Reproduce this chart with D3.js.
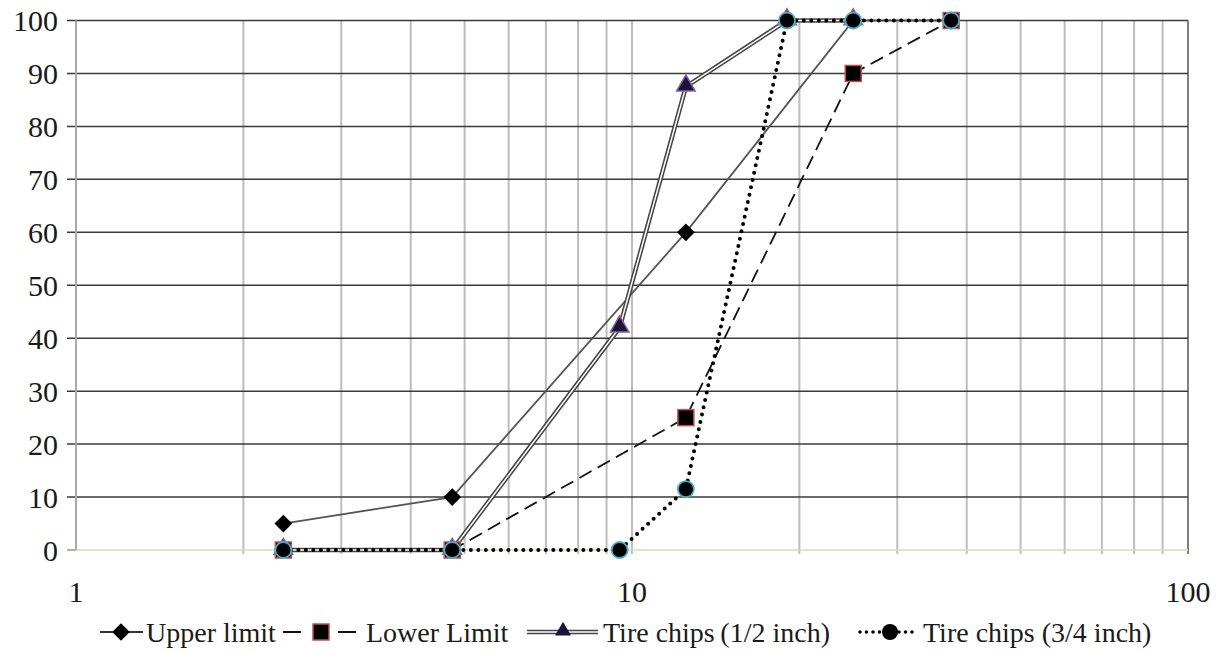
<!DOCTYPE html>
<html><head><meta charset="utf-8">
<script src="https://cdn.jsdelivr.net/npm/d3@7"></script>
<style>body{margin:0;background:#fff}svg{display:block}text{font-family:"Liberation Serif","Times New Roman",serif;fill:#1a1a1a}</style>
</head><body><svg id="c" width="1217" height="653"></svg>
<script>
const sieveSizes = [2.36, 4.75, 9.5, 12.5, 19, 25, 37.5];
const upperLimit = [5, 10, null, 60, null, 100, 100];
const lowerLimit = [0, 0, null, 25, null, 90, 100];
const tireHalf = [0, 0, 42, 87.5, 100, 100, null];
const tireThreeQuarter = [0, 0, 0, 11.5, 100, 100, 100];
const yTicks = [0, 10, 20, 30, 40, 50, 60, 70, 80, 90, 100];
const xTickLabels = [1, 10, 100];
const seriesNames = ["Upper limit", "Lower Limit", "Tire chips\u2009(1/2 inch)", "Tire chips (3/4 inch)"];

const svg = d3.select("#c");
const L = 76, R = 1188, T = 20.5, B = 550;
const x = d3.scaleLog().domain([1, 100]).range([L, R]);
const y = d3.scaleLinear().domain([0, 100]).range([B, T]);

const minor = [];
for (const d of [1, 10]) for (let k = 2; k <= 10; k++) minor.push(d * k);
svg.append("g").selectAll("line").data(minor.filter(v => v < 100)).join("line")
  .attr("x1", d => x(d)).attr("x2", d => x(d)).attr("y1", T).attr("y2", B + 4)
  .attr("stroke", "#bdbdbd").attr("stroke-width", 2);
svg.append("line").attr("x1", x(100)).attr("x2", x(100)).attr("y1", T).attr("y2", B + 4)
  .attr("stroke", "#808080").attr("stroke-width", 2);
svg.append("g").selectAll("line").data(yTicks.filter(v => v > 0)).join("line")
  .attr("x1", L - 9).attr("x2", R).attr("y1", d => y(d)).attr("y2", d => y(d))
  .attr("stroke", "#3a3a3a").attr("stroke-width", 1.5);
svg.append("line").attr("x1", L).attr("x2", L).attr("y1", T).attr("y2", B)
  .attr("stroke", "#aaaaaa").attr("stroke-width", 2);
svg.append("line").attr("x1", L - 9).attr("x2", L).attr("y1", B).attr("y2", B).attr("stroke", "#999").attr("stroke-width", 1.5);
svg.append("line").attr("x1", L).attr("x2", R).attr("y1", B).attr("y2", B)
  .attr("stroke", "#cfe0ad").attr("stroke-width", 1.5);

svg.append("g").selectAll("text").data(yTicks).join("text")
  .attr("x", 58).attr("y", d => y(d)).attr("dy", "0.35em").attr("text-anchor", "end")
  .attr("font-size", 30).text(d => d);
svg.append("g").selectAll("text").data(xTickLabels).join("text")
  .attr("x", d => x(d)).attr("y", 591).attr("dy", "0.35em").attr("text-anchor", "middle")
  .attr("font-size", 30).text(d => d);

function pts(vals) { return sieveSizes.map((s, i) => [s, vals[i]]).filter(p => p[1] != null); }
const line = d3.line().x(p => x(p[0])).y(p => y(p[1]));

svg.append("path").attr("d", line(pts(upperLimit))).attr("fill", "none").attr("stroke", "#555").attr("stroke-width", 1.8);
svg.append("path").attr("d", line(pts(lowerLimit))).attr("fill", "none").attr("stroke", "#111").attr("stroke-width", 1.8).attr("stroke-dasharray", "14,7");
svg.append("path").attr("d", line(pts(tireHalf))).attr("fill", "none").attr("stroke", "#444").attr("stroke-width", 4.6);
svg.append("path").attr("d", line(pts(tireHalf))).attr("fill", "none").attr("stroke", "#fff").attr("stroke-width", 1.5);
svg.append("path").attr("d", line(pts(tireThreeQuarter))).attr("fill", "none").attr("stroke", "#000").attr("stroke-width", 4).attr("stroke-linecap", "round").attr("stroke-dasharray", "0,7.5");

const diamond = d3.symbol().type(d3.symbolDiamond2).size(200);
const tri = d3.symbol().type(d3.symbolTriangle).size(150);
function drawMarkers(vals, fn) { pts(vals).forEach(p => fn(svg, x(p[0]), y(p[1]))); }
const mk = {
  diamond: (g, cx, cy) => g.append("path").attr("d", diamond()).attr("transform", `translate(${cx},${cy})`).attr("fill", "#000"),
  square: (g, cx, cy) => g.append("rect").attr("x", cx - 8).attr("y", cy - 8).attr("width", 16).attr("height", 16).attr("fill", "#000").attr("stroke", "#c0504d").attr("stroke-width", 1.5),
  triangle: (g, cx, cy) => g.append("path").attr("d", tri()).attr("transform", `translate(${cx},${cy - 1})`).attr("fill", "#1b1338").attr("stroke", "#8064a2").attr("stroke-width", 1.5),
  circle: (g, cx, cy) => g.append("circle").attr("cx", cx).attr("cy", cy).attr("r", 8).attr("fill", "#000").attr("stroke", "#4bacc6").attr("stroke-width", 1.8)
};
drawMarkers(upperLimit, mk.diamond);
drawMarkers(lowerLimit, mk.square);
drawMarkers(tireHalf, mk.triangle);
drawMarkers(tireThreeQuarter, mk.circle);

const ly = 632;
const lg = svg.append("g");
lg.append("line").attr("x1", 100).attr("x2", 143).attr("y1", ly).attr("y2", ly).attr("stroke", "#333").attr("stroke-width", 1.8);
mk.diamond(lg, 121, ly);
[[283, 301], [338, 356]].forEach(s => lg.append("line").attr("x1", s[0]).attr("x2", s[1]).attr("y1", ly).attr("y2", ly).attr("stroke", "#111").attr("stroke-width", 2));
lg.append("rect").attr("x", 313).attr("y", ly - 8).attr("width", 16).attr("height", 16).attr("fill", "#000").attr("stroke", "#c0504d").attr("stroke-width", 1.5);
lg.append("line").attr("x1", 527).attr("x2", 598).attr("y1", ly).attr("y2", ly).attr("stroke", "#444").attr("stroke-width", 4.6);
lg.append("line").attr("x1", 527).attr("x2", 598).attr("y1", ly).attr("y2", ly).attr("stroke", "#fff").attr("stroke-width", 1.5);
lg.append("path").attr("d", d3.symbol().type(d3.symbolTriangle).size(110)()).attr("transform", `translate(563,${ly - 1})`).attr("fill", "#1b1338");
lg.append("line").attr("x1", 860).attr("x2", 918).attr("y1", ly).attr("y2", ly).attr("stroke", "#000").attr("stroke-width", 3.5).attr("stroke-linecap", "round").attr("stroke-dasharray", "0,6.5");
lg.append("circle").attr("cx", 890).attr("cy", ly).attr("r", 8).attr("fill", "#000");

const legendX = [146, 366, 603, 923];
lg.selectAll("text.l").data(seriesNames).join("text").attr("class", "l")
  .attr("x", (d, i) => legendX[i]).attr("y", ly).attr("dy", "0.35em").attr("font-size", 28).text(d => d);
</script></body></html>
